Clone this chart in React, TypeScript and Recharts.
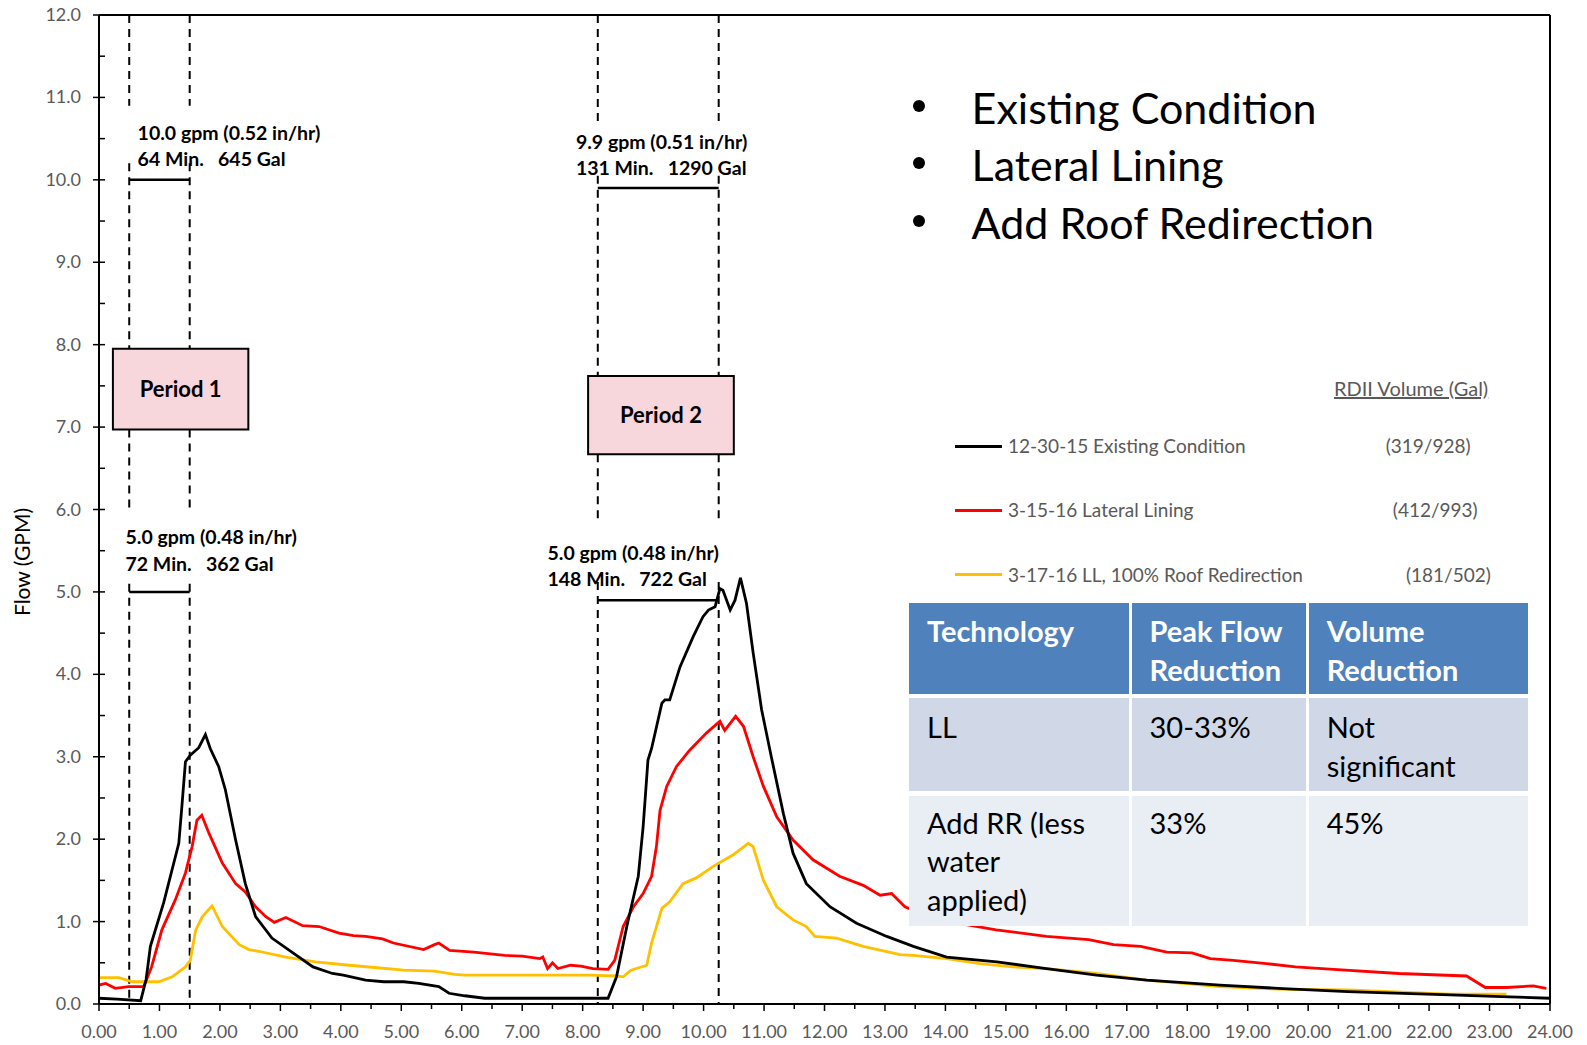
import { LineChart, Line, XAxis, YAxis, ReferenceLine, ReferenceArea } from "recharts";

// [hour, flow gpm]
const existingCondition: [number, number][] = [
  [0, 0.07], [0.3, 0.06], [0.69, 0.04], [0.78, 0.3], [0.85, 0.7], [1.07, 1.23], [1.32, 1.95],
  [1.37, 2.39], [1.43, 2.94], [1.51, 3.02], [1.65, 3.11], [1.76, 3.27], [1.84, 3.1], [1.98, 2.88],
  [2.09, 2.6], [2.26, 1.99], [2.42, 1.46], [2.59, 1.06], [2.86, 0.8], [3.19, 0.63], [3.54, 0.45],
  [3.86, 0.37], [4.04, 0.35], [4.41, 0.29], [4.71, 0.27], [5.04, 0.27], [5.29, 0.25], [5.62, 0.21],
  [5.79, 0.13], [6.05, 0.1], [6.38, 0.07], [7.0, 0.07], [7.6, 0.07], [8.3, 0.07], [8.42, 0.07],
  [8.56, 0.33], [8.73, 0.94], [8.92, 1.55], [9.0, 2.15], [9.08, 2.96], [9.14, 3.1], [9.31, 3.65],
  [9.36, 3.69], [9.44, 3.69], [9.61, 4.09], [9.83, 4.46], [9.99, 4.7], [10.08, 4.78], [10.19, 4.82],
  [10.27, 5.04], [10.32, 5.02], [10.44, 4.78], [10.52, 4.9], [10.61, 5.17], [10.71, 4.86],
  [10.82, 4.26], [10.96, 3.57], [11.12, 3.0], [11.32, 2.31], [11.48, 1.83], [11.7, 1.46],
  [12.09, 1.18], [12.53, 0.98], [13.03, 0.82], [13.47, 0.7], [14.02, 0.57], [14.85, 0.51],
  [15.67, 0.43], [16.5, 0.35], [17.33, 0.29], [18.54, 0.23], [19.5, 0.19], [20.65, 0.15],
  [22.35, 0.11], [23.2, 0.09], [24, 0.07],
];

const lateralLining: [number, number][] = [
  [0, 0.23], [0.11, 0.25], [0.27, 0.19], [0.49, 0.21], [0.74, 0.21], [0.87, 0.45], [1.04, 0.9],
  [1.26, 1.26], [1.43, 1.59], [1.54, 1.91], [1.62, 2.23], [1.7, 2.29], [1.82, 2.07], [2.04, 1.71],
  [2.26, 1.46], [2.42, 1.36], [2.59, 1.18], [2.76, 1.06], [2.9, 0.99], [3.09, 1.05], [3.37, 0.95],
  [3.64, 0.94], [3.97, 0.86], [4.21, 0.83], [4.41, 0.82], [4.69, 0.79], [4.87, 0.74], [5.37, 0.66],
  [5.55, 0.72], [5.62, 0.74], [5.8, 0.65], [6.2, 0.63], [6.71, 0.59], [7.0, 0.58], [7.29, 0.55],
  [7.34, 0.57], [7.42, 0.43], [7.5, 0.5], [7.59, 0.43], [7.8, 0.47], [7.97, 0.46], [8.17, 0.43],
  [8.42, 0.42], [8.53, 0.53], [8.67, 0.94], [8.84, 1.18], [9.0, 1.34], [9.14, 1.55], [9.22, 1.91],
  [9.28, 2.35], [9.39, 2.64], [9.55, 2.88], [9.77, 3.08], [10.05, 3.29], [10.27, 3.43],
  [10.35, 3.32], [10.53, 3.49], [10.66, 3.37], [10.82, 3.0], [10.99, 2.64], [11.21, 2.27],
  [11.48, 1.99], [11.81, 1.75], [12.25, 1.55], [12.64, 1.44], [12.92, 1.32], [13.11, 1.34],
  [13.33, 1.18], [13.6, 1.1], [14.2, 0.98], [14.84, 0.9], [15.67, 0.82], [16.37, 0.78],
  [16.78, 0.72], [17.23, 0.7], [17.66, 0.63], [18.08, 0.62], [18.38, 0.55], [18.76, 0.53],
  [19.31, 0.49], [19.79, 0.45], [20.42, 0.42], [21.5, 0.37], [22.62, 0.34], [22.93, 0.2],
  [23.28, 0.2], [23.72, 0.22], [23.94, 0.19],
];

const roofRedirection: [number, number][] = [
  [0, 0.32], [0.33, 0.32], [0.55, 0.27], [0.99, 0.27], [1.21, 0.33], [1.43, 0.45], [1.51, 0.53],
  [1.6, 0.9], [1.71, 1.06], [1.87, 1.19], [2.04, 0.94], [2.32, 0.72], [2.48, 0.66], [2.64, 0.64],
  [3.09, 0.57], [3.58, 0.51], [4.14, 0.47], [4.6, 0.44], [5.04, 0.41], [5.55, 0.4], [5.88, 0.36],
  [6.05, 0.35], [7.0, 0.35], [8.13, 0.35], [8.55, 0.34], [8.67, 0.33], [8.8, 0.41], [9.06, 0.47],
  [9.14, 0.74], [9.31, 1.16], [9.44, 1.24], [9.66, 1.46], [9.88, 1.53], [10.16, 1.67],
  [10.49, 1.81], [10.74, 1.95], [10.82, 1.91], [10.99, 1.5], [11.21, 1.18], [11.48, 1.02],
  [11.7, 0.94], [11.84, 0.82], [12.2, 0.8], [12.64, 0.7], [13.25, 0.6], [13.47, 0.59],
  [14.02, 0.55], [14.57, 0.49], [15.12, 0.45], [15.67, 0.43], [16.5, 0.37], [17.33, 0.29],
  [18.54, 0.21], [19.5, 0.18], [20.65, 0.17], [22.35, 0.12], [23.28, 0.12],
];

const seriesNames = ["12-30-15 Existing Condition", "3-15-16 Lateral Lining", "3-17-16 LL, 100% Roof Redirection"];
const rdiiVolumes = ["(319/928)", "(412/993)", "(181/502)"];
const bullets = ["Existing Condition", "Lateral Lining", "Add Roof Redirection"];
const tableHeader = ["Technology", "Peak Flow\nReduction", "Volume\nReduction"];
const tableRows = [
  ["LL", "30-33%", "Not\nsignificant"],
  ["Add RR (less\nwater\napplied)", "33%", "45%"],
];

const xTicks = Array.from({ length: 49 }, (_, i) => i * 0.5);
const yTicks = Array.from({ length: 25 }, (_, i) => i * 0.5);

const FONT = "Lato, 'Open Sans', sans-serif";
const COLORS = ["#000000", "#ff0000", "#ffc000"];
const OFF = 8; // wrapper is pulled over the body margin

const toPoints = (rows: [number, number][]) => rows.map(([hour, flow]) => ({ hour, flow }));

const XTick = ({ x, y, payload }: any) => {
  const v = payload.value;
  const major = Number.isInteger(v);
  return (
    <g>
      <line x1={x} x2={x} y1={y} y2={y + (major ? 7 : 5)} stroke="#000" strokeWidth={1.5} />
      {major && (
        <text x={x} y={y + 34} textAnchor="middle" fill="#595959" fontSize={18} fontFamily={FONT}>
          {v.toFixed(2)}
        </text>
      )}
    </g>
  );
};

const YTick = ({ x, y, payload }: any) => {
  const v = payload.value;
  const major = Number.isInteger(v);
  return (
    <g>
      <line x1={major ? x - 6 : x} x2={x + 6} y1={y} y2={y} stroke="#000" strokeWidth={1.5} />
      {major && (
        <text x={x - 18} y={y + 6} textAnchor="end" fill="#595959" fontSize={18} fontFamily={FONT}>
          {v.toFixed(1)}
        </text>
      )}
    </g>
  );
};

const dash = { stroke: "#000", strokeWidth: 2, strokeDasharray: "8 6" };
const bar = { stroke: "#000", strokeWidth: 2.5 };

const seg = (x: number, y1: number, y2: number) => [
  { x, y: y1 },
  { x, y: y2 },
];

const note = (left: number, cy: number, text: string) => (
  <div
    key={text + left + cy}
    style={{
      position: "absolute", left: left + OFF, top: cy + OFF - 13, height: 26, lineHeight: "26px",
      fontSize: 19.5, fontWeight: 700, whiteSpace: "pre", color: "#000",
    }}
  >
    {text}
  </div>
);

export default function App() {
  const colLeft = [901, 1123.5, 1300.7];
  const colWidth = [220, 174.5, 219.5];
  const rowTop = [595, 690.3, 787.5];
  const rowHeight = [91.3, 93.2, 130.5];
  const rowPad = [9.4, 10.2, 8.2];
  const rowFill = ["#4f81bd", "#d0d8e8", "#e9edf4"];
  const allRows = [tableHeader, ...tableRows];

  return (
    <div style={{ position: "relative", width: 1587, height: 1045, margin: `-${OFF}px 0 0 -${OFF}px`, fontFamily: FONT }}>
      <LineChart width={1587} height={1045} margin={{ top: 7 + OFF, right: 37, left: OFF, bottom: 0 }}>
        <XAxis
          type="number"
          dataKey="hour"
          domain={[0, 24]}
          ticks={xTicks}
          interval={0}
          tick={<XTick />}
          tickLine={false}
          tickSize={0}
          tickMargin={0}
          height={41}
          axisLine={{ stroke: "#000", strokeWidth: 2 }}
          allowDataOverflow
        />
        <YAxis
          type="number"
          domain={[0, 12]}
          ticks={yTicks}
          interval={0}
          tick={<YTick />}
          tickLine={false}
          tickSize={0}
          tickMargin={0}
          width={91}
          axisLine={{ stroke: "#000", strokeWidth: 2 }}
          allowDataOverflow
        />
        <ReferenceLine y={12} stroke="#000" strokeWidth={2} />
        <ReferenceLine x={24} stroke="#000" strokeWidth={2} />

        {/* period 1 dashed markers */}
        {[0.5, 1.5].map((x) => [
          <ReferenceLine key={`a${x}`} segment={seg(x, 12, 10.9)} {...dash} />,
          <ReferenceLine key={`b${x}`} segment={seg(x, 10.2, 7.95)} {...dash} />,
          <ReferenceLine key={`c${x}`} segment={seg(x, 6.97, 6.0)} {...dash} />,
          <ReferenceLine key={`d${x}`} segment={seg(x, 5.1, 0)} {...dash} />,
        ])}
        {/* period 2 dashed markers */}
        {[8.25, 10.25].map((x) => [
          <ReferenceLine key={`e${x}`} segment={seg(x, 12, 10.65)} {...dash} />,
          <ReferenceLine key={`f${x}`} segment={seg(x, 10.05, 7.62)} {...dash} />,
          <ReferenceLine key={`g${x}`} segment={seg(x, 6.67, 5.84)} {...dash} />,
          <ReferenceLine key={`h${x}`} segment={seg(x, 5.12, 0)} {...dash} />,
        ])}

        <ReferenceLine segment={[{ x: 0.5, y: 10 }, { x: 1.5, y: 10 }]} {...bar} />
        <ReferenceLine segment={[{ x: 0.5, y: 5 }, { x: 1.5, y: 5 }]} {...bar} />
        <ReferenceLine segment={[{ x: 8.25, y: 9.9 }, { x: 10.25, y: 9.9 }]} {...bar} />
        <ReferenceLine segment={[{ x: 8.25, y: 4.9 }, { x: 10.25, y: 4.9 }]} {...bar} />

        <ReferenceArea
          x1={0.23} x2={2.47} y1={6.97} y2={7.95}
          fill="#f7d6dc" fillOpacity={1} stroke="#000" strokeWidth={2}
          label={{ value: "Period 1", position: "center", fill: "#000", fontSize: 22, fontWeight: 700, fontFamily: FONT }}
        />
        <ReferenceArea
          x1={8.09} x2={10.5} y1={6.67} y2={7.62}
          fill="#f7d6dc" fillOpacity={1} stroke="#000" strokeWidth={2}
          label={{ value: "Period 2", position: "center", fill: "#000", fontSize: 22, fontWeight: 700, fontFamily: FONT }}
        />

        <Line data={toPoints(roofRedirection)} dataKey="flow" stroke={COLORS[2]} strokeWidth={2.8} dot={false} isAnimationActive={false} />
        <Line data={toPoints(lateralLining)} dataKey="flow" stroke={COLORS[1]} strokeWidth={2.8} dot={false} isAnimationActive={false} />
        <Line data={toPoints(existingCondition)} dataKey="flow" stroke={COLORS[0]} strokeWidth={2.8} dot={false} isAnimationActive={false} />
      </LineChart>

      {/* y axis title */}
      <div
        style={{
          position: "absolute", left: 14 + OFF - 70, top: 554 + OFF - 14, width: 140, height: 28, lineHeight: "28px",
          textAlign: "center", fontSize: 21, color: "#000", transform: "rotate(-90deg)",
        }}
      >
        Flow (GPM)
      </div>

      {/* annotations */}
      {note(129.6, 124.6, "10.0 gpm (0.52 in/hr)")}
      {note(129.6, 150.9, "64 Min.   645 Gal")}
      {note(567.9, 133.7, "9.9 gpm (0.51 in/hr)")}
      {note(567.9, 160, "131 Min.   1290 Gal")}
      {note(117.5, 529.4, "5.0 gpm (0.48 in/hr)")}
      {note(117.5, 555.7, "72 Min.   362 Gal")}
      {note(539.5, 544.6, "5.0 gpm (0.48 in/hr)")}
      {note(539.5, 570.9, "148 Min.   722 Gal")}

      {/* bullets */}
      {bullets.map((b, i) => {
        const cy = [100.3, 157, 214.7][i] + OFF;
        return (
          <div key={b}>
            <div style={{ position: "absolute", left: 905 + OFF, top: cy - 8, width: 12, height: 12, borderRadius: 6, background: "#000" }} />
            <div style={{ position: "absolute", left: 963.6 + OFF, top: cy - 27, height: 54, lineHeight: "54px", fontSize: 43, whiteSpace: "pre", color: "#000" }}>
              {b}
            </div>
          </div>
        );
      })}

      {/* legend */}
      <div
        style={{
          position: "absolute", left: 1326 + OFF, top: 379.6 + OFF - 13, height: 26, lineHeight: "26px",
          fontSize: 20, color: "#595959", textDecoration: "underline", whiteSpace: "pre",
        }}
      >
        RDII Volume (Gal)
      </div>
      {seriesNames.map((name, i) => {
        const cy = [438.3, 502, 566.9][i] + OFF;
        const right = [1462.6, 1469.7, 1482.8][i] + OFF;
        return (
          <div key={name}>
            <div style={{ position: "absolute", left: 947.4 + OFF, top: cy - 1.5, width: 47, height: 3, background: COLORS[i] }} />
            <div style={{ position: "absolute", left: 1000 + OFF, top: cy - 13, height: 26, lineHeight: "26px", fontSize: 19, color: "#595959", whiteSpace: "pre" }}>
              {name}
            </div>
            <div style={{ position: "absolute", left: right - 140, width: 140, textAlign: "right", top: cy - 13, height: 26, lineHeight: "26px", fontSize: 19, color: "#595959", whiteSpace: "pre" }}>
              {rdiiVolumes[i]}
            </div>
          </div>
        );
      })}

      {/* table */}
      {allRows.map((row, r) =>
        row.map((cell, c) => (
          <div
            key={`${r}-${c}`}
            style={{
              position: "absolute", left: colLeft[c] + OFF, top: rowTop[r] + OFF, width: colWidth[c], height: rowHeight[r],
              background: rowFill[r], boxSizing: "border-box", paddingLeft: 18, paddingTop: rowPad[r],
              fontSize: 29, lineHeight: "38.5px", whiteSpace: "pre",
              color: r === 0 ? "#ffffff" : "#000000", fontWeight: r === 0 ? 700 : 400,
            }}
          >
            {cell}
          </div>
        ))
      )}
    </div>
  );
}
